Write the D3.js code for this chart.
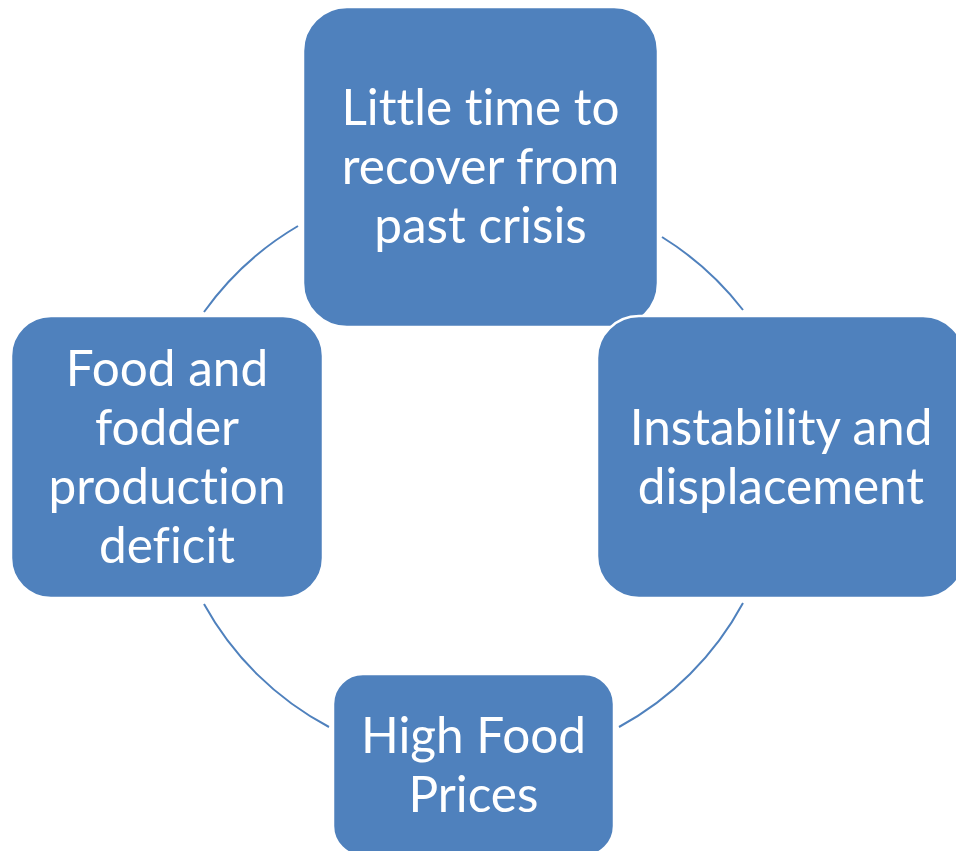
<!DOCTYPE html>
<html>
<head>
    <title></title>
    <meta charset="utf-8" />
    <script src="https://cdn.jsdelivr.net/npm/d3@7"></script>
    <style>
        body { margin: 0; background: #fff; }
        .box { fill: #4f81bd; stroke: #fff; stroke-width: 2.5; }
        .link { fill: none; stroke: #4f81bd; stroke-width: 2; }
        .label { fill: #fff; font-family: Lato, "Open Sans", sans-serif; font-size: 49.5px; text-anchor: middle; font-variant-ligatures: none; }
    </style>
</head>
<body>
    <script>
        // the four steps of the cycle, clockwise from the top
        var steps = ['top', 'right', 'bottom', 'left'];
        var labels = [
            ['Little time to', 'recover from', 'past crisis'],
            ['Instability and', 'displacement'],
            ['High Food', 'Prices'],
            ['Food and', 'fodder', 'production', 'deficit']
        ];

        // box layout (x, y, w, h, corner radius)
        var boxes = {
            top:    [303, 7, 355, 320, 44],
            right:  [597, 316, 368, 282, 42],
            bottom: [333, 674, 281, 182, 30],
            left:   [11, 316, 312, 282, 40]
        };
        // arc connectors between neighbouring boxes
        var links = [
            [[204, 312], [298, 226]],
            [[662, 237], [743, 310]],
            [[743, 603], [619, 727]],
            [[329, 727], [204, 604]]
        ];
        var arcR = 306, lineH = 59;

        var svg = d3.select('body').append('svg').attr('width', 956).attr('height', 851);

        svg.selectAll('.link').data(links).enter()
            .append('path')
            .attr('class', 'link')
            .attr('d', function (d) {
                return 'M' + d[0][0] + ',' + d[0][1] + ' A' + arcR + ',' + arcR + ' 0 0 1 ' + d[1][0] + ',' + d[1][1];
            });

        // draw order so the right box sits over the top box
        var order = ['top', 'left', 'bottom', 'right'];
        var g = svg.selectAll('.step').data(order).enter().append('g').attr('class', 'step');

        g.append('rect')
            .attr('class', 'box')
            .attr('x', function (d) { return boxes[d][0]; })
            .attr('y', function (d) { return boxes[d][1]; })
            .attr('width', function (d) { return boxes[d][2]; })
            .attr('height', function (d) { return boxes[d][3]; })
            .attr('rx', function (d) { return boxes[d][4]; });

        g.each(function (d) {
            var b = boxes[d];
            var lines = labels[steps.indexOf(d)];
            var cx = b[0] + b[2] / 2, cy = b[1] + b[3] / 2;
            d3.select(this).selectAll('text').data(lines).enter()
                .append('text')
                .attr('class', 'label')
                .attr('x', cx)
                .attr('y', function (t, i) { return cy + (i - (lines.length - 1) / 2) * lineH; })
                .attr('dy', '0.35em')
                .text(function (t) { return t; });
        });
    </script>
</body>
</html>
